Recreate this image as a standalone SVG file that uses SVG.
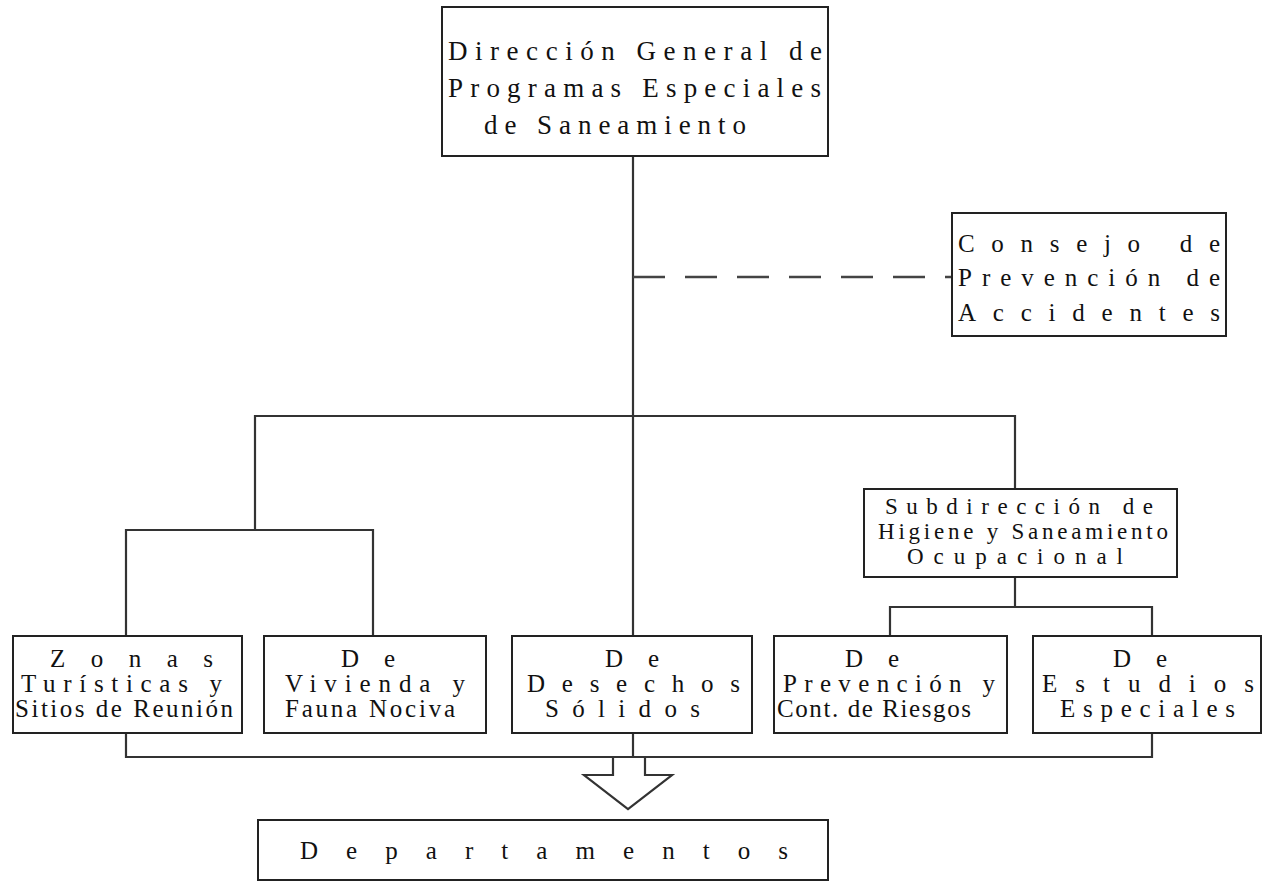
<svg xmlns="http://www.w3.org/2000/svg" width="1273" height="882" viewBox="0 0 1273 882">
<style>
.box{fill:#fff;stroke:#222;stroke-width:2}
.ln{fill:none;stroke:#333;stroke-width:2.2}
.dash{fill:none;stroke:#444;stroke-width:2.5;stroke-dasharray:32 20}
text{font-family:"Liberation Serif","DejaVu Serif",serif;fill:#111}
.t1{font-size:27px}
.t2{font-size:25px}
.t3{font-size:23px}
</style>
<rect width="1273" height="882" fill="#fff"/>
<g id="connectors">
<line class="ln" x1="633" y1="156" x2="633" y2="636"/>
<line class="dash" x1="633" y1="277" x2="952" y2="277"/>
<polyline class="ln" points="255,530 255,416 1015,416 1015,489"/>
<polyline class="ln" points="126,636 126,530 373,530 373,636"/>
<line class="ln" x1="1015" y1="577" x2="1015" y2="607"/>
<polyline class="ln" points="890,636 890,607 1152,607 1152,636"/>
<polyline class="ln" points="126,733 126,757 1152,757 1152,733"/>
<line class="ln" x1="633" y1="733" x2="633" y2="757"/>
<path class="ln" d="M613,757 V775 H584 L628,809 L672,775 H645 V757"/>
</g>
<g id="n-direccion">
<rect class="box" x="442" y="7" width="386" height="149"/>
<text class="t1" x="448" y="60" textLength="374" lengthAdjust="spacing">Dirección General de</text>
<text class="t1" x="448" y="97" textLength="373" lengthAdjust="spacing">Programas Especiales</text>
<text class="t1" x="484" y="134" textLength="262" lengthAdjust="spacing">de Saneamiento</text>
</g>
<g id="n-consejo">
<rect class="box" x="952" y="213" width="274" height="123"/>
<text class="t2" x="958" y="252" textLength="262" lengthAdjust="spacing">Consejo de</text>
<text class="t2" x="958" y="286" textLength="262" lengthAdjust="spacing">Prevención de</text>
<text class="t2" x="958" y="321" textLength="262" lengthAdjust="spacing">Accidentes</text>
</g>
<g id="n-subdireccion">
<rect class="box" x="864" y="489" width="313" height="88"/>
<text class="t3" x="885" y="514" textLength="268" lengthAdjust="spacing">Subdirección de</text>
<text class="t3" x="878" y="539" textLength="290" lengthAdjust="spacing">Higiene y Saneamiento</text>
<text class="t3" x="907" y="564" textLength="216" lengthAdjust="spacing">Ocupacional</text>
</g>
<g id="n-zonas">
<rect class="box" x="13" y="636" width="229" height="97"/>
<text class="t2" x="50" y="667" textLength="163" lengthAdjust="spacing">Zonas</text>
<text class="t2" x="21" y="692" textLength="201" lengthAdjust="spacing">Turísticas y</text>
<text class="t2" x="15" y="717" textLength="218" lengthAdjust="spacing">Sitios de Reunión</text>
</g>
<g id="n-vivienda">
<rect class="box" x="264" y="636" width="222" height="97"/>
<text class="t2" x="341" y="667" textLength="54" lengthAdjust="spacing">De</text>
<text class="t2" x="285" y="692" textLength="180" lengthAdjust="spacing">Vivienda y</text>
<text class="t2" x="285" y="717" textLength="170" lengthAdjust="spacing">Fauna Nociva</text>
</g>
<g id="n-desechos">
<rect class="box" x="512" y="636" width="240" height="97"/>
<text class="t2" x="605" y="667" textLength="54" lengthAdjust="spacing">De</text>
<text class="t2" x="527" y="692" textLength="213" lengthAdjust="spacing">Desechos</text>
<text class="t2" x="545" y="717" textLength="155" lengthAdjust="spacing">Sólidos</text>
</g>
<g id="n-prevencion">
<rect class="box" x="774" y="636" width="233" height="97"/>
<text class="t2" x="845" y="667" textLength="54" lengthAdjust="spacing">De</text>
<text class="t2" x="783" y="692" textLength="212" lengthAdjust="spacing">Prevención y</text>
<text class="t2" x="777" y="717" textLength="194" lengthAdjust="spacing">Cont. de Riesgos</text>
</g>
<g id="n-estudios">
<rect class="box" x="1033" y="636" width="228" height="97"/>
<text class="t2" x="1113" y="667" textLength="54" lengthAdjust="spacing">De</text>
<text class="t2" x="1042" y="692" textLength="212" lengthAdjust="spacing">Estudios</text>
<text class="t2" x="1060" y="717" textLength="175" lengthAdjust="spacing">Especiales</text>
</g>
<g id="n-departamentos">
<rect class="box" x="258" y="820" width="570" height="60"/>
<text class="t2" x="300" y="859" textLength="488" lengthAdjust="spacing">Departamentos</text>
</g>
</svg>
